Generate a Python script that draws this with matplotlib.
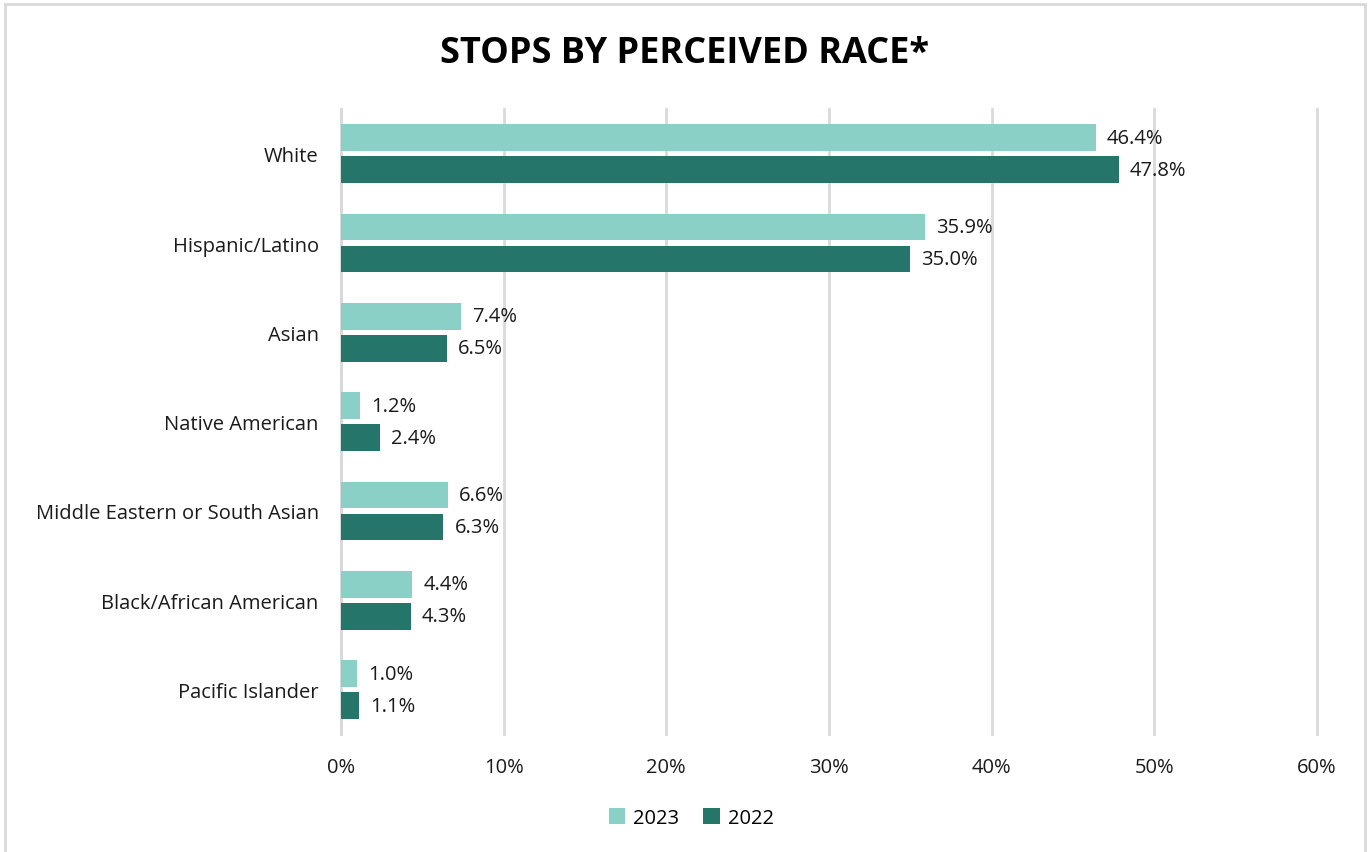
import matplotlib.pyplot as plt
import numpy as np
from matplotlib.ticker import PercentFormatter

plt.rcParams['font.family'] = ['Open Sans', 'DejaVu Sans']

categories = ["White", "Hispanic/Latino", "Asian", "Native American",
              "Middle Eastern or South Asian", "Black/African American",
              "Pacific Islander"]
vals_2023 = [46.4, 35.9, 7.4, 1.2, 6.6, 4.4, 1.0]
vals_2022 = [47.8, 35.0, 6.5, 2.4, 6.3, 4.3, 1.1]
labels_2023 = ["46.4%", "35.9%", "7.4%", "1.2%", "6.6%", "4.4%", "1.0%"]
labels_2022 = ["47.8%", "35.0%", "6.5%", "2.4%", "6.3%", "4.3%", "1.1%"]
xticks = [0, 10, 20, 30, 40, 50, 60]

c23 = "#8bd0c7"
c22 = "#26756a"
grid_c = "#d9d9d9"
fs = 14.5

fig = plt.figure(figsize=(13.69, 8.53), dpi=100)
ax = fig.add_axes([0.249, 0.138, 0.713, 0.733])

y = np.arange(len(categories))
h = 0.3
gap = 0.03
b1 = ax.barh(y - h / 2 - gap, vals_2023, height=h, color=c23, label="2023", zorder=3)
b2 = ax.barh(y + h / 2 + gap, vals_2022, height=h, color=c22, label="2022", zorder=3)
ax.bar_label(b1, labels=labels_2023, padding=8, fontsize=fs, color="#1a1a1a")
ax.bar_label(b2, labels=labels_2022, padding=8, fontsize=fs, color="#1a1a1a")

ax.set_ylim(len(categories) - 0.5, -0.5)
ax.set_yticks(y)
ax.set_yticklabels(categories, fontsize=fs, color="#1a1a1a")
ax.set_xlim(0, 60)
ax.set_xticks(xticks)
ax.xaxis.set_major_formatter(PercentFormatter(decimals=0))
ax.tick_params(axis="x", labelsize=fs, colors="#1a1a1a", length=0, pad=16)
ax.tick_params(axis="y", length=0, pad=16)
ax.grid(axis="x", color=grid_c, linewidth=2, zorder=0)
for gl in ax.get_xgridlines():
    gl.set_clip_on(False)
for s in ["top", "right", "bottom"]:
    ax.spines[s].set_visible(False)
ax.spines["left"].set_color(grid_c)
ax.spines["left"].set_linewidth(2)

fig.text(0.5, 0.937, "STOPS BY PERCEIVED RACE*", ha="center", va="center",
         fontsize=26, fontweight="bold", color="black")

leg = fig.legend(handles=[b1, b2], loc="center", bbox_to_anchor=(0.505, 0.04),
                 ncol=2, frameon=False, fontsize=fs, handlelength=0.8,
                 handleheight=0.8, columnspacing=1.2, handletextpad=0.4)

border = plt.Rectangle((0.004, -0.01), 0.993, 1.004, transform=fig.transFigure,
                       fill=False, edgecolor=grid_c, linewidth=2)
fig.patches.append(border)

fig.savefig("out.png", dpi=100)
